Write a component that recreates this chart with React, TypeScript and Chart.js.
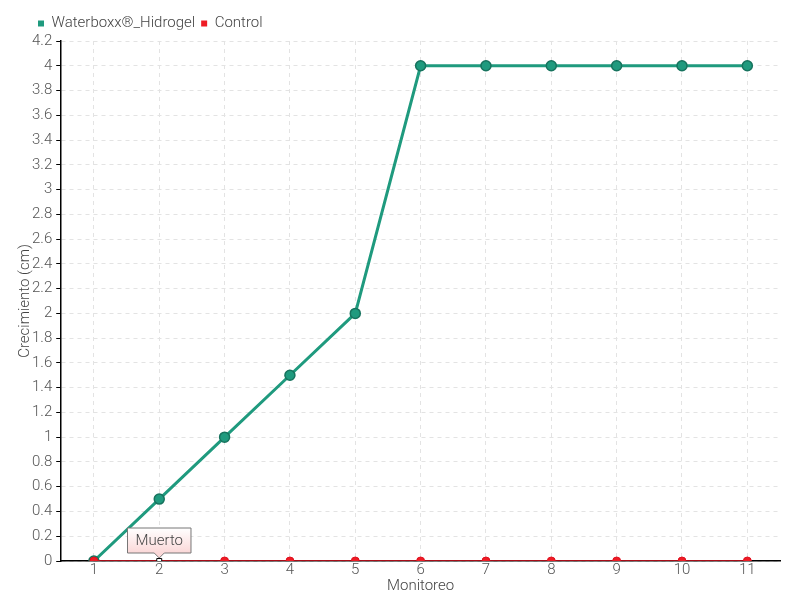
import React, { useEffect, useRef } from "react";
import { Chart, registerables } from "chart.js";
Chart.register(...registerables);

const categories = ["1", "2", "3", "4", "5", "6", "7", "8", "9", "10", "11"];
const waterboxx = [0, 0.5, 1, 1.5, 2, 4, 4, 4, 4, 4, 4];
const control = [0, 0, 0, 0, 0, 0, 0, 0, 0, 0, 0];
const annotationIndex = 1;
const annotationText = "Muerto";

const FONT = "'Liberation Sans Narrow', 'Roboto', sans-serif";

const calloutPlugin = {
  id: "callout",
  afterLayout(chart: any) {
    if (chart.legend) {
      chart.legend.left += 16;
    }
  },
  afterDatasetsDraw(chart: any) {
    const { ctx, scales } = chart;
    const x = scales.x.getPixelForValue(annotationIndex);
    const y = scales.y.getPixelForValue(control[annotationIndex]);
    ctx.save();
    ctx.font = "300 15px " + FONT;
    const tw = ctx.measureText(annotationText).width;
    const w = tw + 16;
    const h = 25;
    const left = x - w / 2;
    const bottom = y - 8;
    const top = bottom - h;
    const g = ctx.createLinearGradient(0, top, 0, bottom);
    g.addColorStop(0, "#ffffff");
    g.addColorStop(1, "#fbd8d8");
    ctx.beginPath();
    ctx.moveTo(left, top);
    ctx.lineTo(left + w, top);
    ctx.lineTo(left + w, bottom);
    ctx.lineTo(x + 5, bottom);
    ctx.lineTo(x, bottom + 5);
    ctx.lineTo(x - 5, bottom);
    ctx.lineTo(left, bottom);
    ctx.closePath();
    ctx.fillStyle = g;
    ctx.fill();
    ctx.strokeStyle = "#777";
    ctx.lineWidth = 1;
    ctx.stroke();
    ctx.fillStyle = "#444";
    ctx.textAlign = "center";
    ctx.textBaseline = "middle";
    ctx.fillText(annotationText, x, top + h / 2 + 1);
    ctx.restore();
  },
};

export default function App() {
  const ref = useRef<HTMLCanvasElement>(null);
  useEffect(() => {
    if (!ref.current) return;
    const tickFont = { family: FONT, size: 15, weight: "300" as any };
    const chart = new Chart(ref.current, {
      type: "line",
      data: {
        labels: categories,
        datasets: [
          {
            label: "Waterboxx®_Hidrogel",
            data: waterboxx,
            borderColor: "#1f9a7e",
            backgroundColor: "#1f9a7e",
            pointBackgroundColor: "#1f9a7e",
            pointBorderColor: "#17735e",
            pointBorderWidth: 1.5,
            pointRadius: 5,
            borderWidth: 3,
            tension: 0,
            order: 2,
          },
          {
            label: "Control",
            data: control,
            borderColor: "#e0101f",
            backgroundColor: "#ee1c25",
            pointBackgroundColor: control.map((_, i) => (i === annotationIndex ? "#ffffff" : "#ee1c25")),
            pointBorderColor: control.map((_, i) => (i === annotationIndex ? "#000000" : "#e0101f")),
            pointStyle: control.map((_, i) => (i === annotationIndex ? "rect" : "circle")) as any,
            pointRadius: control.map((_, i) => (i === annotationIndex ? 3.5 : 4)),
            pointBorderWidth: 1,
            borderWidth: 1.5,
            tension: 0,
            order: 1,
          },
        ],
      },
      options: {
        responsive: false,
        animation: false,
        layout: { padding: { left: 16, right: 20, top: 10, bottom: 1 } },
        plugins: {
          legend: {
            align: "start",
            labels: {
              boxWidth: 6,
              boxHeight: 6,
              padding: 6,
              color: "#444",
              font: tickFont,
              generateLabels: (c: any) =>
                c.data.datasets.map((d: any, i: number) => ({
                  text: d.label,
                  fillStyle: d.backgroundColor,
                  strokeStyle: d.backgroundColor,
                  lineWidth: 0,
                  datasetIndex: i,
                  fontColor: "#444",
                })),
            },
          },
          tooltip: { enabled: false },
        },
        scales: {
          x: {
            type: "category",
            offset: true,
            grid: {
              offset: false,
              color: "#e3e3e3",
              drawTicks: false,
            } as any,
            border: { display: true, color: "#000", width: 1.5, dash: [4, 4] } as any,
            ticks: { color: "#555", font: tickFont, padding: 0 },
            title: {
              display: true,
              text: "Monitoreo",
              color: "#444",
              font: tickFont,
              padding: { top: -2, bottom: 4 },
            },
          },
          y: {
            min: 0,
            max: 4.2,
            ticks: {
              stepSize: 0.2,
              color: "#555",
              font: tickFont,
              padding: 4,
              callback: (v: any) => String(Math.round(Number(v) * 10) / 10),
            },
            grid: { color: "#e3e3e3", tickLength: 5, tickColor: "#000" } as any,
            border: { display: true, color: "#000", width: 1.5, dash: [4, 4] } as any,
            title: {
              display: true,
              text: "Crecimiento (cm)",
              color: "#444",
              font: tickFont,
              padding: { top: 0, bottom: -6 },
            },
          },
        },
      },
      plugins: [calloutPlugin],
    } as any);
    return () => chart.destroy();
  }, []);
  return (
    <div style={{ position: "absolute", left: 0, top: 0, width: 800, height: 600, background: "#fff" }}>
      <canvas ref={ref} width={800} height={600} />
    </div>
  );
}
